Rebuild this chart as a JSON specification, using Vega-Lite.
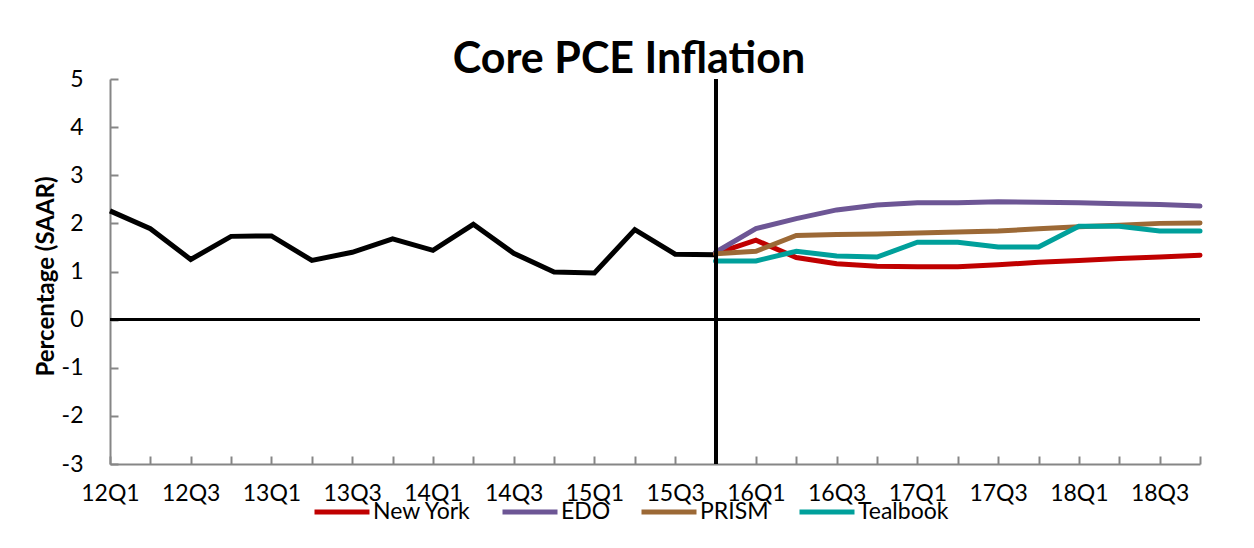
{
  "$schema": "https://vega.github.io/schema/vega-lite/v6.json",
  "autosize": "none",
  "width": 1090,
  "height": 385,
  "padding": {"left": 110, "top": 79, "right": 54, "bottom": 84},
  "background": "white",
  "title": {"text": "Core PCE Inflation", "font": "Lato", "fontSize": 43, "fontWeight": "bold", "color": "black", "anchor": "middle", "frame": "group", "baseline": "alphabetic", "offset": 6, "dx": -26, "dy": 54},
  "config": {
    "view": {"stroke": null},
    "font": "Lato",
    "axis": {"grid": false, "domainColor": "#868686", "tickColor": "#868686", "domainWidth": 2, "tickWidth": 2, "labelFont": "Lato", "labelFontSize": 23, "labelColor": "black", "titleFont": "Lato", "titleColor": "black"}
  },
  "data": {"values": [
    {"q": "12Q1", "series": "Actual", "v": 2.26},
    {"q": "12Q2", "series": "Actual", "v": 1.89},
    {"q": "12Q3", "series": "Actual", "v": 1.25},
    {"q": "12Q4", "series": "Actual", "v": 1.73},
    {"q": "13Q1", "series": "Actual", "v": 1.74},
    {"q": "13Q2", "series": "Actual", "v": 1.23},
    {"q": "13Q3", "series": "Actual", "v": 1.40},
    {"q": "13Q4", "series": "Actual", "v": 1.68},
    {"q": "14Q1", "series": "Actual", "v": 1.44},
    {"q": "14Q2", "series": "Actual", "v": 1.98},
    {"q": "14Q3", "series": "Actual", "v": 1.38},
    {"q": "14Q4", "series": "Actual", "v": 0.99},
    {"q": "15Q1", "series": "Actual", "v": 0.97},
    {"q": "15Q2", "series": "Actual", "v": 1.87},
    {"q": "15Q3", "series": "Actual", "v": 1.36},
    {"q": "15Q4", "series": "Actual", "v": 1.35},
    {"q": "15Q4", "series": "New York", "v": 1.37},
    {"q": "16Q1", "series": "New York", "v": 1.65},
    {"q": "16Q2", "series": "New York", "v": 1.29},
    {"q": "16Q3", "series": "New York", "v": 1.16},
    {"q": "16Q4", "series": "New York", "v": 1.11},
    {"q": "17Q1", "series": "New York", "v": 1.10},
    {"q": "17Q2", "series": "New York", "v": 1.10},
    {"q": "17Q3", "series": "New York", "v": 1.14},
    {"q": "17Q4", "series": "New York", "v": 1.19},
    {"q": "18Q1", "series": "New York", "v": 1.23},
    {"q": "18Q2", "series": "New York", "v": 1.27},
    {"q": "18Q3", "series": "New York", "v": 1.30},
    {"q": "18Q4", "series": "New York", "v": 1.34},
    {"q": "15Q4", "series": "EDO", "v": 1.40},
    {"q": "16Q1", "series": "EDO", "v": 1.89},
    {"q": "16Q2", "series": "EDO", "v": 2.10},
    {"q": "16Q3", "series": "EDO", "v": 2.28},
    {"q": "16Q4", "series": "EDO", "v": 2.38},
    {"q": "17Q1", "series": "EDO", "v": 2.43},
    {"q": "17Q2", "series": "EDO", "v": 2.43},
    {"q": "17Q3", "series": "EDO", "v": 2.45},
    {"q": "17Q4", "series": "EDO", "v": 2.44},
    {"q": "18Q1", "series": "EDO", "v": 2.43},
    {"q": "18Q2", "series": "EDO", "v": 2.41},
    {"q": "18Q3", "series": "EDO", "v": 2.39},
    {"q": "18Q4", "series": "EDO", "v": 2.36},
    {"q": "15Q4", "series": "PRISM", "v": 1.37},
    {"q": "16Q1", "series": "PRISM", "v": 1.42},
    {"q": "16Q2", "series": "PRISM", "v": 1.75},
    {"q": "16Q3", "series": "PRISM", "v": 1.77},
    {"q": "16Q4", "series": "PRISM", "v": 1.78},
    {"q": "17Q1", "series": "PRISM", "v": 1.80},
    {"q": "17Q2", "series": "PRISM", "v": 1.82},
    {"q": "17Q3", "series": "PRISM", "v": 1.84},
    {"q": "17Q4", "series": "PRISM", "v": 1.89},
    {"q": "18Q1", "series": "PRISM", "v": 1.93},
    {"q": "18Q2", "series": "PRISM", "v": 1.96},
    {"q": "18Q3", "series": "PRISM", "v": 2.00},
    {"q": "18Q4", "series": "PRISM", "v": 2.01},
    {"q": "15Q4", "series": "Tealbook", "v": 1.22},
    {"q": "16Q1", "series": "Tealbook", "v": 1.22},
    {"q": "16Q2", "series": "Tealbook", "v": 1.42},
    {"q": "16Q3", "series": "Tealbook", "v": 1.32},
    {"q": "16Q4", "series": "Tealbook", "v": 1.30},
    {"q": "17Q1", "series": "Tealbook", "v": 1.61},
    {"q": "17Q2", "series": "Tealbook", "v": 1.61},
    {"q": "17Q3", "series": "Tealbook", "v": 1.51},
    {"q": "17Q4", "series": "Tealbook", "v": 1.51},
    {"q": "18Q1", "series": "Tealbook", "v": 1.94},
    {"q": "18Q2", "series": "Tealbook", "v": 1.94},
    {"q": "18Q3", "series": "Tealbook", "v": 1.84},
    {"q": "18Q4", "series": "Tealbook", "v": 1.84}
  ]},
  "layer": [
    {
      "mark": {"type": "rule", "color": "black", "strokeWidth": 2},
      "encoding": {"y": {"datum": 0, "type": "quantitative"}}
    },
    {
      "transform": [{"filter": "datum.series == 'Actual'"}],
      "mark": {"type": "line", "color": "black", "strokeWidth": 5, "strokeJoin": "miter"},
      "encoding": {
        "x": {"field": "q", "type": "ordinal", "title": null,
              "scale": {"type": "point", "padding": 0, "domain": ["12Q1","12Q2","12Q3","12Q4","13Q1","13Q2","13Q3","13Q4","14Q1","14Q2","14Q3","14Q4","15Q1","15Q2","15Q3","15Q4","16Q1","16Q2","16Q3","16Q4","17Q1","17Q2","17Q3","17Q4","18Q1","18Q2","18Q3","18Q4"]},
              "axis": {"labelAngle": 0, "tickSize": -8, "labelPadding": 26, "labelOverlap": false, "labelExpr": "(substring(datum.value,3,4) == '1' || substring(datum.value,3,4) == '3') ? datum.value : ''"}},
        "y": {"field": "v", "type": "quantitative",
              "scale": {"domain": [-3, 5], "nice": false, "zero": false},
              "axis": {"values": [-3,-2,-1,0,1,2,3,4,5], "labelExpr": "'' + datum.value", "tickSize": -8, "labelPadding": 35, "title": "Percentage (SAAR)", "titleFontSize": 24, "titleFontWeight": "bold", "titleAngle": 270, "titleX": -64, "titleY": 197, "titleBaseline": "middle", "titleAlign": "center"}}
      }
    },
    {
      "transform": [{"filter": "datum.series != 'Actual'"}],
      "mark": {"type": "line", "strokeWidth": 5, "strokeCap": "round"},
      "encoding": {
        "x": {"field": "q", "type": "ordinal"},
        "y": {"field": "v", "type": "quantitative"},
        "color": {"field": "series", "type": "nominal",
                  "scale": {"domain": ["New York", "EDO", "PRISM", "Tealbook"], "range": ["#C00000", "#6D5695", "#9C6936", "#00A09B"]},
                  "legend": {"title": null, "orient": "none", "legendX": 202, "legendY": 403, "direction": "horizontal", "symbolType": "stroke", "symbolSize": 3025, "symbolStrokeWidth": 5, "labelFontSize": 23, "labelFont": "Lato", "labelColor": "black", "labelOffset": 1, "columnPadding": 20}},
        "order": {"field": "series", "type": "nominal"}
      }
    },
    {
      "mark": {"type": "rule", "color": "black", "strokeWidth": 3},
      "encoding": {"x": {"datum": "15Q4", "type": "ordinal"}}
    }
  ]
}
